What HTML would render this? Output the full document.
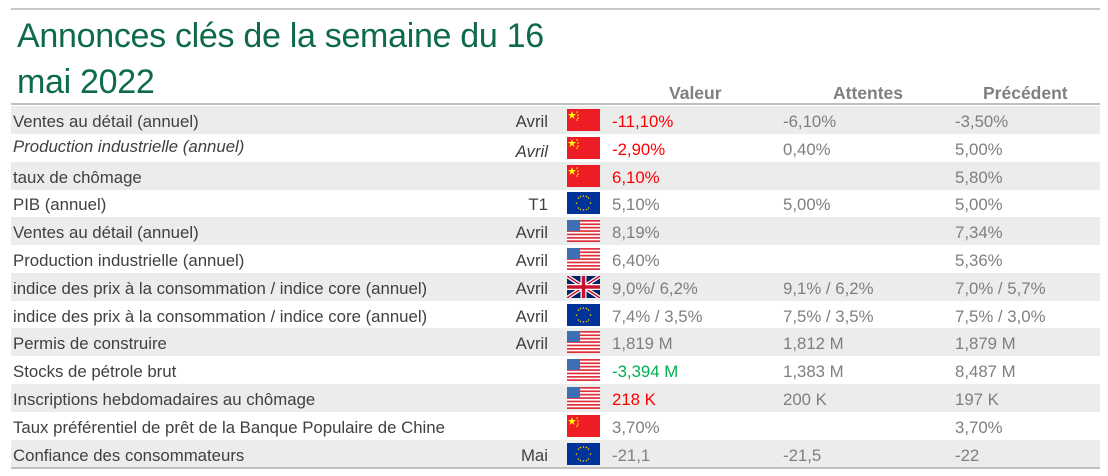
<!DOCTYPE html>
<html><head><meta charset="utf-8"><style>
body{margin:0;width:1108px;height:476px;background:#fff;font-family:"Liberation Sans",sans-serif;position:relative;overflow:hidden}
.t{position:absolute;left:17px;color:#0e6b47;font-size:34px;letter-spacing:-0.3px}
.r{position:absolute;left:11px;width:1089px;height:28px;font-size:16.8px;color:#404040}
.r.g{background:#ececec}
.r span{position:absolute;top:6px;white-space:nowrap}
.l{left:2px}.p{right:552px;text-align:right}
.v{left:601px;color:#7f7f7f}.a{left:772px;color:#7f7f7f}.c{left:944px;color:#7f7f7f}
.red{color:#f00!important}.grn{color:#00b050!important}
.f{position:absolute;left:556px;top:3px;width:33px;height:22px}
.h{position:absolute;top:83px;font-size:17.5px;font-weight:bold;color:#7f7f7f}
</style></head><body>
<div style="position:absolute;left:11px;top:8px;width:1089px;height:2px;background:#c8c8c8"></div>
<div class="t" style="top:17px">Annonces clés de la semaine du 16</div>
<div class="t" style="top:63px">mai 2022</div>
<div class="h" style="left:669px">Valeur</div>
<div class="h" style="left:833px">Attentes</div>
<div class="h" style="left:983px">Précédent</div>
<div style="position:absolute;left:11px;top:103px;width:1089px;height:2px;background:#c0c0c0"></div>
<svg width="0" height="0" style="position:absolute"><defs>
<symbol id="cn" viewBox="0 0 33 22"><rect width="33" height="22" fill="#ee1c25"/><polygon points="5,2 6,5 9,5 6.5,7 7.5,10 5,8 2.5,10 3.5,7 1,5 4,5" fill="#ff0"/><circle cx="10" cy="3" r=".8" fill="#ff0"/><circle cx="11" cy="6" r=".8" fill="#ff0"/><circle cx="11" cy="9" r=".8" fill="#ff0"/><circle cx="10" cy="11" r=".8" fill="#ff0"/></symbol>
<symbol id="eu" viewBox="0 0 33 22"><rect width="33" height="22" fill="#039"/><g fill="#fc0"><circle cx="16.5" cy="4" r=".8"/><circle cx="16.5" cy="18" r=".8"/><circle cx="9.5" cy="11" r=".8"/><circle cx="23.5" cy="11" r=".8"/><circle cx="11.5" cy="6" r=".8"/><circle cx="21.5" cy="6" r=".8"/><circle cx="11.5" cy="16" r=".8"/><circle cx="21.5" cy="16" r=".8"/><circle cx="13.5" cy="4.5" r=".8"/><circle cx="19.5" cy="4.5" r=".8"/><circle cx="13.5" cy="17.5" r=".8"/><circle cx="19.5" cy="17.5" r=".8"/></g></symbol>
<symbol id="us" viewBox="0 0 33 22"><rect width="33" height="22" fill="#fff"/><g fill="#e0303a"><rect y="0" width="33" height="1.7"/><rect y="3.4" width="33" height="1.7"/><rect y="6.8" width="33" height="1.7"/><rect y="10.2" width="33" height="1.7"/><rect y="13.6" width="33" height="1.7"/><rect y="17" width="33" height="1.7"/><rect y="20.3" width="33" height="1.7"/></g><rect width="13" height="11" fill="#3c6fb4"/></symbol>
<symbol id="uk" viewBox="0 0 33 22"><rect width="33" height="22" fill="#012169"/><path d="M0,0L33,22M33,0L0,22" stroke="#fff" stroke-width="4"/><path d="M0,0L33,22M33,0L0,22" stroke="#c8102e" stroke-width="1.5"/><path d="M16.5,0V22M0,11H33" stroke="#fff" stroke-width="6"/><path d="M16.5,0V22M0,11H33" stroke="#c8102e" stroke-width="3.5"/></symbol>
</defs></svg>

<div class="r g" style="top:106px"><span class="l">Ventes au détail (annuel)</span><span class="p">Avril</span><svg class="f"><use href="#cn"/></svg><span class="v red">-11,10%</span><span class="a">-6,10%</span><span class="c">-3,50%</span></div>
<div class="r" style="top:134px"><span class="l" style="font-style:italic;top:3px">Production industrielle (annuel)</span><span class="p" style="font-style:italic;top:8px">Avril</span><svg class="f"><use href="#cn"/></svg><span class="v red">-2,90%</span><span class="a">0,40%</span><span class="c">5,00%</span></div>
<div class="r g" style="top:162px"><span class="l">taux de chômage</span><svg class="f"><use href="#cn"/></svg><span class="v red">6,10%</span><span class="c">5,80%</span></div>
<div class="r" style="top:189px"><span class="l">PIB (annuel)</span><span class="p">T1</span><svg class="f"><use href="#eu"/></svg><span class="v">5,10%</span><span class="a">5,00%</span><span class="c">5,00%</span></div>
<div class="r g" style="top:217px"><span class="l">Ventes au détail (annuel)</span><span class="p">Avril</span><svg class="f"><use href="#us"/></svg><span class="v">8,19%</span><span class="c">7,34%</span></div>
<div class="r" style="top:245px"><span class="l">Production industrielle (annuel)</span><span class="p">Avril</span><svg class="f"><use href="#us"/></svg><span class="v">6,40%</span><span class="c">5,36%</span></div>
<div class="r g" style="top:273px"><span class="l">indice des prix à la consommation / indice core (annuel)</span><span class="p">Avril</span><svg class="f"><use href="#uk"/></svg><span class="v">9,0%/ 6,2%</span><span class="a">9,1% / 6,2%</span><span class="c">7,0% / 5,7%</span></div>
<div class="r" style="top:301px"><span class="l">indice des prix à la consommation / indice core (annuel)</span><span class="p">Avril</span><svg class="f"><use href="#eu"/></svg><span class="v">7,4% / 3,5%</span><span class="a">7,5% / 3,5%</span><span class="c">7,5% / 3,0%</span></div>
<div class="r g" style="top:328px"><span class="l">Permis de construire</span><span class="p">Avril</span><svg class="f"><use href="#us"/></svg><span class="v">1,819 M</span><span class="a">1,812 M</span><span class="c">1,879 M</span></div>
<div class="r" style="top:356px"><span class="l">Stocks de pétrole brut</span><svg class="f"><use href="#us"/></svg><span class="v grn">-3,394 M</span><span class="a">1,383 M</span><span class="c">8,487 M</span></div>
<div class="r g" style="top:384px"><span class="l">Inscriptions hebdomadaires au chômage</span><svg class="f"><use href="#us"/></svg><span class="v red">218 K</span><span class="a">200 K</span><span class="c">197 K</span></div>
<div class="r" style="top:412px"><span class="l">Taux préférentiel de prêt de la Banque Populaire de Chine</span><svg class="f"><use href="#cn"/></svg><span class="v">3,70%</span><span class="c">3,70%</span></div>
<div class="r g" style="top:440px"><span class="l">Confiance des consommateurs</span><span class="p">Mai</span><svg class="f"><use href="#eu"/></svg><span class="v">-21,1</span><span class="a">-21,5</span><span class="c">-22</span></div>
<div style="position:absolute;left:11px;top:467px;width:1089px;height:2px;background:#c0c0c0"></div>
</body></html>
